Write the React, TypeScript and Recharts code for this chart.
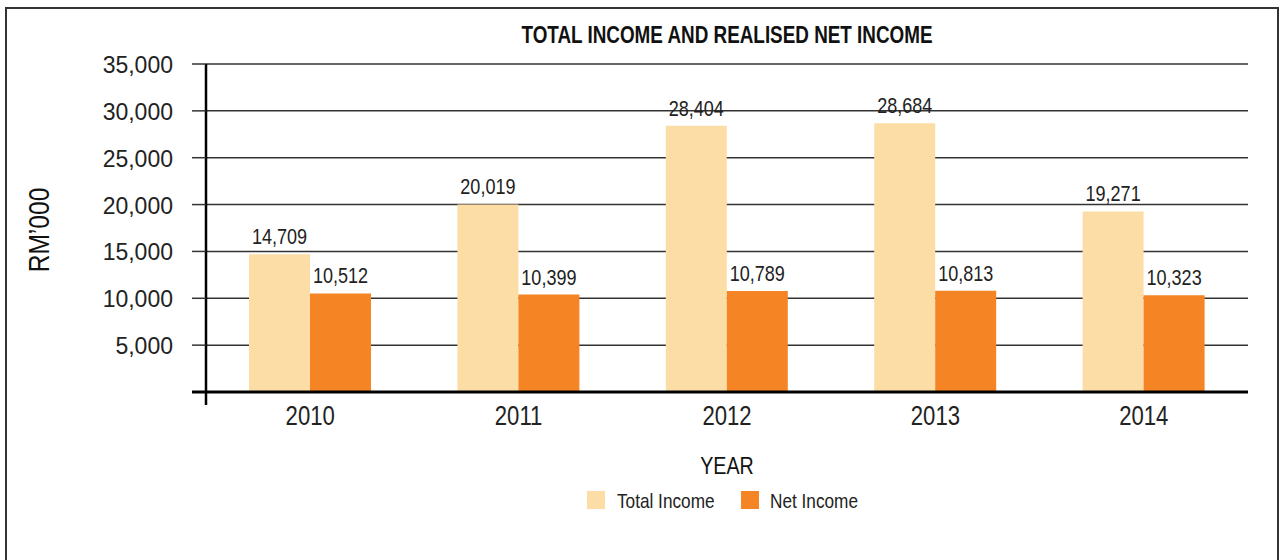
import React from "react";
import { BarChart, Bar, XAxis, YAxis, CartesianGrid, LabelList, Legend } from "recharts";

const years = ["2010", "2011", "2012", "2013", "2014"];
const totalIncome = [14709, 20019, 28404, 28684, 19271];
const netIncome = [10512, 10399, 10789, 10813, 10323];
const yTicks = [0, 5000, 10000, 15000, 20000, 25000, 30000, 35000];

const data = years.map((year, i) => ({ year, total: totalIncome[i], net: netIncome[i] }));

const SANS = '"Liberation Sans", Arial, sans-serif';
// no condensed Helvetica available, so squeeze Liberation Sans horizontally
const SQUEEZE = 0.82;

const TICK_SIZE = 14;
const TICK_MARGIN = 19;

const fmt = (v: number) => v.toLocaleString("en-US");

const NarrowText = ({ x, y, size, anchor = "middle", weight = "normal", fill = "#222", children }: any) => (
  <text
    transform={`translate(${x}, ${y}) scale(${SQUEEZE}, 1)`}
    textAnchor={anchor}
    fontFamily={SANS}
    fontSize={size}
    fontWeight={weight}
    fill={fill}
  >
    {children}
  </text>
);

const YTick = (props: any) => {
  const { x, y, payload } = props;
  const axisX = x + TICK_SIZE + TICK_MARGIN;
  if (payload.value === 0) {
    return (
      <g>
        <line x1={axisX - TICK_SIZE} x2={axisX} y1={y} y2={y} stroke="#000" strokeWidth={3} />
        <line x1={axisX} x2={axisX} y1={y} y2={y + 13} stroke="#000" strokeWidth={2.5} />
      </g>
    );
  }
  return (
    <text x={x} y={y} dy={9} textAnchor="end" fontFamily={SANS} fontSize={23} fill="#222">
      {fmt(payload.value)}
    </text>
  );
};

const XTick = (props: any) => {
  const { x, y, payload } = props;
  return (
    <NarrowText x={x} y={y + 19} size={27}>
      {payload.value}
    </NarrowText>
  );
};

const BarValue = (props: any) => {
  const { x, y, width, value } = props;
  return (
    <NarrowText x={x + width / 2} y={y - 10} size={22}>
      {fmt(Number(value))}
    </NarrowText>
  );
};

const YLabel = () => (
  <text
    transform={`translate(49, 230) rotate(-90) scale(${SQUEEZE}, 1)`}
    textAnchor="middle"
    fontFamily={SANS}
    fontSize={30}
    fill="#111"
  >
    RM’000
  </text>
);

const XLabel = (props: any) => {
  const { viewBox } = props;
  return (
    <NarrowText x={viewBox.x + viewBox.width / 2} y={474} size={24} fill="#111">
      YEAR
    </NarrowText>
  );
};

const LegendContent = () => (
  <svg width={300} height={24} style={{ display: "block", overflow: "visible" }}>
    <rect x={0} y={0} width={18} height={18} fill="#FDDDA6" />
    <NarrowText x={30} y={17} size={21} anchor="start">
      Total Income
    </NarrowText>
    <rect x={154} y={0} width={18} height={18} fill="#F48424" />
    <NarrowText x={183} y={17} size={21} anchor="start">
      Net Income
    </NarrowText>
  </svg>
);

export default function App() {
  return (
    <div style={{ position: "relative", width: 1282, height: 560, overflow: "hidden", background: "#fff" }}>
      <style>{`body{margin:0}`}</style>
      <div
        style={{
          position: "absolute",
          left: 5,
          top: 7,
          width: 1270,
          height: 600,
          border: "2px solid #333",
        }}
      />
      <div
        style={{
          position: "absolute",
          left: 206,
          width: 1042,
          top: 23,
          textAlign: "center",
          fontFamily: SANS,
          fontWeight: "bold",
          fontSize: 23,
          lineHeight: "24px",
          color: "#111",
          transform: `scaleX(${SQUEEZE})`,
          transformOrigin: "center",
        }}
      >
        TOTAL INCOME AND REALISED NET INCOME
      </div>
      <div style={{ position: "absolute", left: 0, top: 0 }}>
        <BarChart
          width={1282}
          height={560}
          data={data}
          margin={{ top: 64, right: 34, left: 6, bottom: 138 }}
          barCategoryGap={43}
          barGap={0}
        >
          <CartesianGrid horizontal vertical={false} stroke="#333" strokeWidth={1.5} />
          <XAxis
            dataKey="year"
            height={30}
            axisLine={{ stroke: "#000", strokeWidth: 3 }}
            tickLine={false}
            tickSize={0}
            tickMargin={14}
            tick={<XTick />}
            label={<XLabel />}
          />
          <YAxis
            width={200}
            domain={[0, 35000]}
            ticks={yTicks}
            interval={0}
            axisLine={{ stroke: "#000", strokeWidth: 2.5 }}
            tickLine={{ stroke: "#333", strokeWidth: 1.5 }}
            tickSize={TICK_SIZE}
            tickMargin={TICK_MARGIN}
            tick={<YTick />}
            label={<YLabel />}
          />
          <Legend
            layout="vertical"
            align="center"
            verticalAlign="middle"
            wrapperStyle={{ top: 491, left: 587, width: 300, height: 24 }}
            content={<LegendContent />}
          />
          <Bar dataKey="total" name="Total Income" fill="#FDDDA6" isAnimationActive={false}>
            <LabelList dataKey="total" content={<BarValue />} />
          </Bar>
          <Bar dataKey="net" name="Net Income" fill="#F48424" isAnimationActive={false}>
            <LabelList dataKey="net" content={<BarValue />} />
          </Bar>
        </BarChart>
      </div>
    </div>
  );
}
